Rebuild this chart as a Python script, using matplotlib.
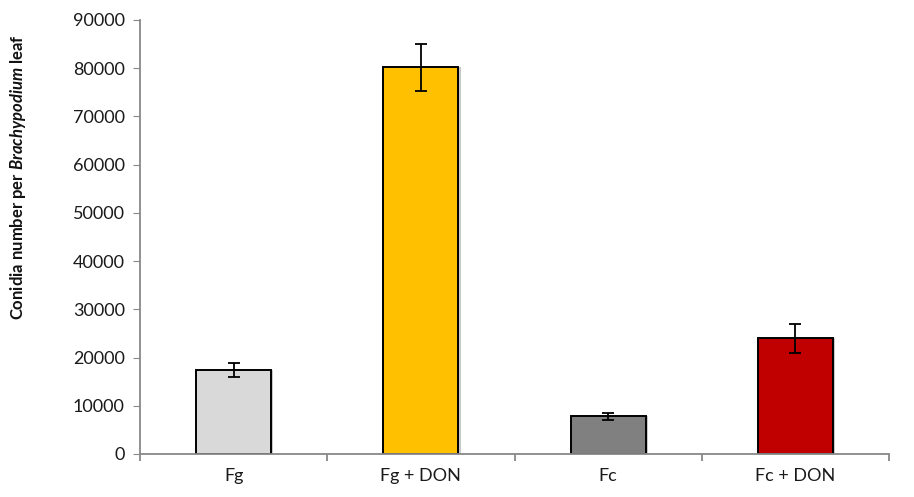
import numpy as np
import matplotlib.pyplot as plt

plt.rcParams['font.family'] = ['Lato', 'DejaVu Sans']
plt.rcParams['mathtext.fontset'] = 'custom'
plt.rcParams['mathtext.rm'] = 'Lato'
plt.rcParams['mathtext.bf'] = 'Lato:bold'
plt.rcParams['mathtext.it'] = 'Lato:italic'
plt.rcParams['mathtext.bfit'] = 'Lato:bold:italic'

groups = ["Fg", "Fg + DON", "Fc", "Fc + DON"]
conidia = [17400, 80200, 7800, 24000]
sem = [1450, 4900, 800, 3000]
colors = ["#d9d9d9", "#ffc000", "#808080", "#c00000"]

fig = plt.figure(figsize=(9.14, 4.97), dpi=100)
ax = fig.add_axes([140/914, 1-454/497, 749/914, 434/497])

x = np.arange(len(groups))
# soft drop shadow to the right of each bar
ax.bar(x+0.012, conidia, width=0.4, color="#c8c8c8", zorder=1)
ax.bar(x, conidia, width=0.4, color=colors, edgecolor="black", linewidth=1.4, zorder=2)
ax.errorbar(x, conidia, yerr=sem, fmt="none", ecolor="black", elinewidth=1.3,
            capsize=4.5, capthick=1.3, zorder=3)

ax.set_xlim(-0.5, 3.5)
ax.set_ylim(0, 90000)
ax.set_yticks(np.arange(0, 90001, 10000))
ax.set_xticks(x)
ax.set_xticklabels(groups)
ax.set_xticks(np.arange(-0.5, 3.6, 1), minor=True)

for s in ["top", "right"]:
    ax.spines[s].set_visible(False)
for s in ["left", "bottom"]:
    ax.spines[s].set_color("#888888")
    ax.spines[s].set_linewidth(1.3)

ax.tick_params(axis="y", length=5, color="#888888", labelsize=13, pad=6, labelcolor="#1a1a1a")
ax.tick_params(axis="x", which="major", length=0, labelsize=13, pad=10, labelcolor="#1a1a1a")
ax.tick_params(axis="x", which="minor", length=5, color="#888888", width=1.3)

fig.text(18/914, 1-177/497, r"Conidia number per $\mathbfit{Brachypodium}$ leaf",
         rotation=90, ha="center", va="center", fontsize=12, fontweight="bold", color="#111111")

fig.savefig("out.png", dpi=100)
